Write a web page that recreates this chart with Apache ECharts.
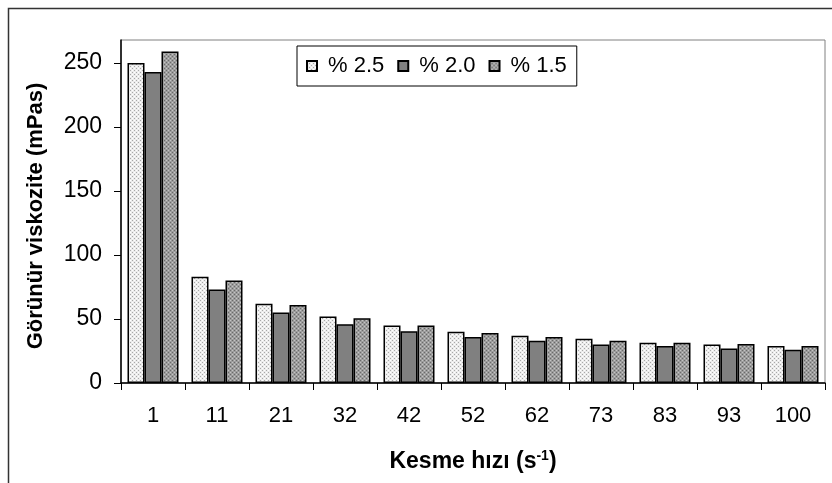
<!DOCTYPE html>
<html>
<head>
<meta charset="utf-8">
<script src="https://cdn.jsdelivr.net/npm/echarts@6/dist/echarts.min.js"></script>
<style>
html,body{margin:0;padding:0;background:#fff;}
#chart{width:832px;height:483px;}
</style>
</head>
<body>
<div id="chart"></div>
<script>
// ---- data ----
const categories = ['1', '11', '21', '32', '42', '52', '62', '73', '83', '93', '100'];
const seriesNames = ['% 2.5', '% 2.0', '% 1.5'];
const s25 = [250, 83, 62, 52, 45, 40, 37, 34.5, 31.5, 30, 29];
const s20 = [243, 73, 55, 46, 40.5, 36, 33, 30, 29, 27, 26];
const s15 = [259, 80, 61, 50.5, 45, 39, 36, 33, 31.5, 30.5, 29];
const yTicks = [0, 50, 100, 150, 200, 250];
const yMax = 268;

const FONT = '"Liberation Sans", Arial, sans-serif';

function makePattern(bg, dot, dot2) {
  const c = document.createElement('canvas');
  c.width = 4; c.height = 4;
  const g = c.getContext('2d');
  g.fillStyle = bg; g.fillRect(0, 0, 4, 4);
  g.fillStyle = dot;
  g.fillRect(0, 0, 1, 1); g.fillRect(2, 2, 1, 1);
  if (dot2) { g.fillStyle = dot2; g.fillRect(2, 0, 1, 1); g.fillRect(0, 2, 1, 1); }
  return { image: c, repeat: 'repeat' };
}
const fill25 = makePattern('#ececec', '#a8a8a8', '#ffffff');
const fill20 = '#808080';
const fill15 = makePattern('#9c9c9c', '#6a6a6a', '#c4c4c4');

const chart = echarts.init(document.getElementById('chart'), null, { renderer: 'canvas' });

const barStyle = (c) => ({ color: c, borderColor: '#000', borderWidth: 1.5 });

chart.setOption({
  animation: false,
  backgroundColor: '#fff',
  textStyle: { fontFamily: FONT },
  grid: {
    left: 121, right: 7, top: 40, bottom: 100,
    show: true, borderColor: '#808080', borderWidth: 1, backgroundColor: 'transparent'
  },
  legend: {
    left: 297, top: 46,
    padding: [9, 10, 9, 9],
    itemGap: 13, itemWidth: 10, itemHeight: 10,
    borderColor: '#000', borderWidth: 1,
    icon: 'rect',
    textStyle: { fontFamily: FONT, fontSize: 22, color: '#000', padding: [0, 0, 0, 6] },
    data: seriesNames
  },
  xAxis: {
    type: 'category',
    data: categories,
    axisLine: { lineStyle: { color: '#000', width: 1.5 } },
    axisTick: { show: true, length: 7, alignWithLabel: false, lineStyle: { color: '#000' } },
    axisLabel: { fontFamily: FONT, fontSize: 22, color: '#000', margin: 22 },
    splitLine: { show: false }
  },
  yAxis: {
    type: 'value',
    min: 0, max: yMax,
    axisLine: { show: true, lineStyle: { color: '#000', width: 1.5 } },
    axisTick: { show: true, length: 7, lineStyle: { color: '#000' }, customValues: yTicks },
    axisLabel: { fontFamily: FONT, fontSize: 23, color: '#000', margin: 19, customValues: yTicks },
    splitLine: { show: false }
  },
  graphic: [
    {
      type: 'rect', silent: true, z: 100,
      shape: { x: 8.5, y: 8.5, width: 900, height: 600 },
      style: { fill: 'none', stroke: '#333', lineWidth: 1.5 }
    },
    {
      type: 'text', x: 36, y: 216, rotation: Math.PI / 2, z: 100,
      style: {
        text: 'Görünür viskozite (mPas)', font: 'bold 22px ' + FONT,
        fill: '#000', textAlign: 'center', textVerticalAlign: 'middle'
      }
    },
    {
      type: 'text', x: 473, y: 462, z: 100,
      style: {
        text: '{a|Kesme hızı (s}{s|-1}{a|)}',
        textAlign: 'center', textVerticalAlign: 'middle',
        rich: {
          a: { font: 'bold 23px ' + FONT, fill: '#000' },
          s: { font: 'bold 14px ' + FONT, fill: '#000', padding: [0, 0, 11, 0] }
        }
      }
    }
  ],
  series: [
    { name: seriesNames[0], type: 'bar', data: s25, barWidth: 17, barGap: '0%', itemStyle: barStyle(fill25) },
    { name: seriesNames[1], type: 'bar', data: s20, barWidth: 17, barGap: '0%', itemStyle: barStyle(fill20) },
    { name: seriesNames[2], type: 'bar', data: s15, barWidth: 17, barGap: '0%', itemStyle: barStyle(fill15) }
  ]
});
</script>
</body>
</html>
